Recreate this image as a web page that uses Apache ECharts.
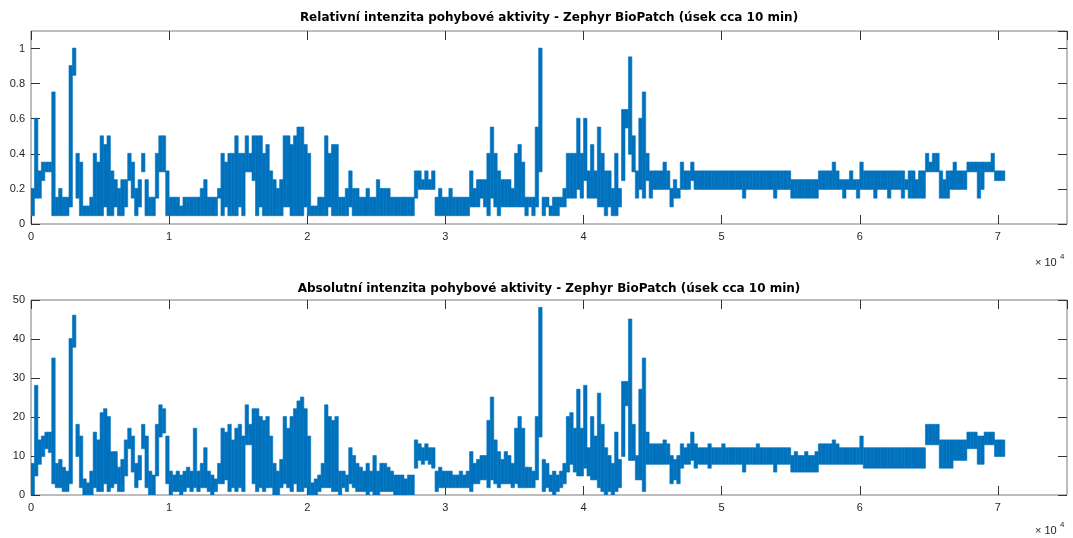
<!DOCTYPE html>
<html><head><meta charset="utf-8">
<script src="https://cdn.jsdelivr.net/npm/echarts@6/dist/echarts.min.js"></script>
<style>html,body{margin:0;padding:0;background:#fff}#c{width:1073px;height:538px}</style>
</head><body><div id="c"></div>
<script>
// bin width (samples) of the min/max envelope
const BIN = 250;
const titleTop = "Relativní intenzita pohybové aktivity - Zephyr BioPatch (úsek cca 10 min)";
const titleBottom = "Absolutní intenzita pohybové aktivity - Zephyr BioPatch (úsek cca 10 min)";
const xTickLabels = ["0","1","2","3","4","5","6","7"];

// Relative intensity: per-bin minimum and maximum
const relLo = [
.05,.15,.15,.25,.3,.3,.05,.05,.05,.05,
.05,.1,.85,.15,.05,.05,.05,.05,.05,.05,
.05,.1,.05,.05,.1,.05,.05,.1,.25,.15,
.05,.1,.3,.05,.05,.05,.15,.3,.3,.05,
.05,.05,.05,.05,.05,.05,.05,.05,.05,.05,
.05,.05,.05,.05,.15,.05,.1,.05,.05,.05,
.1,.05,.3,.3,.25,.05,.1,.05,.05,.05,
.05,.05,.05,.1,.1,.05,.05,.05,.05,.1,
.05,.05,.05,.05,.05,.05,.1,.05,.05,.05,
.05,.05,.1,.05,.05,.05,.05,.05,.05,.05,
.05,.05,.05,.05,.05,.05,.05,.05,.05,.05,
.05,.15,.2,.2,.2,.2,.2,.05,.05,.05,
.05,.05,.05,.05,.05,.05,.05,.1,.1,.1,
.15,.1,.05,.15,.1,.05,.1,.1,.1,.1,
.1,.1,.1,.05,.1,.05,.1,.3,.05,.1,
.05,.05,.05,.1,.1,.15,.15,.15,.2,.15,
.25,.15,.15,.15,.1,.1,.05,.1,.05,.05,
.1,.25,.55,.4,.3,.15,.2,.15,.25,.15,
.2,.2,.2,.2,.2,.1,.15,.15,.2,.2,
.2,.25,.2,.2,.2,.2,.2,.2,.2,.2,
.2,.2,.2,.2,.2,.2,.15,.2,.2,.2,
.2,.2,.2,.2,.2,.15,.2,.2,.2,.2,
.15,.15,.15,.15,.15,.15,.15,.15,.2,.2,
.2,.2,.2,.2,.2,.15,.2,.2,.2,.15,
.2,.2,.2,.2,.15,.2,.2,.2,.15,.2,
.2,.2,.15,.2,.15,.15,.15,.15,.15,.3,
.3,.3,.3,.15,.15,.15,.2,.2,.2,.2,
.2,.3,.3,.3,.15,.2,.3,.3,.3,.25,
.25,.25];
const relHi = [
.2,.6,.3,.35,.35,.35,.75,.15,.2,.15,
.15,.9,1,.4,.35,.1,.1,.15,.4,.35,
.5,.45,.5,.3,.25,.2,.25,.25,.4,.35,
.2,.25,.4,.25,.15,.15,.4,.5,.5,.3,
.15,.15,.15,.1,.15,.15,.15,.15,.15,.2,
.25,.15,.15,.15,.2,.4,.35,.4,.4,.5,
.4,.4,.5,.4,.5,.5,.5,.4,.45,.3,
.25,.2,.25,.5,.5,.45,.5,.55,.55,.45,
.4,.1,.1,.15,.15,.5,.4,.45,.45,.15,
.15,.2,.3,.2,.2,.15,.15,.2,.15,.15,
.25,.2,.2,.2,.15,.15,.15,.15,.15,.15,
.15,.3,.3,.25,.3,.25,.3,.15,.2,.15,
.15,.2,.15,.15,.15,.15,.15,.3,.2,.25,
.25,.25,.4,.55,.4,.3,.25,.25,.25,.2,
.4,.45,.35,.15,.15,.15,.55,1,.15,.15,
.1,.15,.15,.15,.2,.4,.4,.4,.6,.4,
.6,.3,.45,.3,.55,.4,.3,.3,.2,.4,
.2,.65,.65,.95,.5,.3,.6,.75,.4,.3,
.3,.3,.3,.35,.3,.2,.25,.2,.35,.3,
.3,.35,.3,.3,.3,.3,.3,.3,.3,.3,
.3,.3,.3,.3,.3,.3,.3,.3,.3,.3,
.3,.3,.3,.3,.3,.3,.3,.3,.3,.3,
.25,.25,.25,.25,.25,.25,.25,.25,.3,.3,
.3,.3,.35,.3,.25,.25,.25,.3,.25,.25,
.35,.3,.3,.3,.3,.3,.3,.3,.3,.3,
.3,.3,.3,.25,.3,.3,.25,.3,.3,.4,
.35,.4,.4,.3,.25,.3,.3,.35,.3,.3,
.3,.35,.35,.35,.35,.35,.35,.35,.4,.3,
.3,.3];

// Absolute intensity: per-bin minimum and maximum
const absLo = [
0,5,8,10,12,11,3,2,2,1,
1,3,38,10,2,0,0,0,2,1,
1,3,1,2,3,1,1,5,12,6,
2,4,12,2,0,0,5,15,16,3,
0,1,1,0,1,2,1,2,1,2,
2,1,0,1,3,3,4,1,2,1,
2,1,13,13,3,1,2,1,2,2,
0,0,2,3,2,1,3,1,1,2,
0,0,0,1,2,2,2,1,1,0,
2,1,3,2,1,1,1,0,1,0,
0,1,1,1,1,0,0,0,0,0,
0,7,9,8,9,8,7,1,2,2,
2,2,2,2,2,2,2,1,3,3,
4,4,2,4,3,2,3,3,3,2,
3,2,2,2,2,2,4,15,1,2,
1,0,1,2,3,6,8,6,5,5,
7,5,4,4,2,1,0,1,0,1,
2,10,23,9,9,4,4,1,8,8,
8,8,8,8,8,3,4,3,7,8,
8,9,7,8,8,8,7,8,8,8,
8,8,8,8,8,8,6,8,8,8,
8,8,8,8,8,6,8,8,8,8,
6,6,6,6,6,6,6,6,8,8,
8,8,8,8,8,8,8,8,8,8,
8,7,7,7,7,7,7,7,7,7,
7,7,7,7,7,7,7,7,7,13,
13,13,13,7,7,7,7,9,9,9,
9,12,12,12,8,8,13,13,13,10,
10,10];
const absHi = [
8,28,14,15,16,16,35,8,9,7,
6,40,46,18,15,4,3,6,16,14,
21,22,20,11,11,7,9,14,17,15,
8,10,18,15,6,5,18,23,22,15,
6,5,6,5,6,7,6,17,6,8,
12,6,5,4,8,17,16,18,14,17,
18,15,23,18,22,22,20,19,20,15,
8,6,9,20,17,20,22,24,25,22,
15,3,4,5,8,23,20,19,20,6,
6,5,12,10,8,7,6,8,6,10,
6,8,8,7,6,5,5,5,4,5,
5,14,13,12,13,12,12,6,7,6,
6,6,5,5,6,5,6,11,8,9,
10,10,19,25,14,11,9,11,10,8,
17,20,17,7,7,6,20,48,9,8,
5,6,5,6,8,20,21,17,27,17,
28,12,20,15,26,18,12,10,8,16,
9,29,29,45,18,10,27,35,16,13,
13,13,13,14,13,10,9,10,13,12,
13,16,13,12,12,12,13,12,12,12,
13,12,12,12,12,12,12,12,12,12,
13,12,12,12,12,12,12,12,12,12,
10,11,10,10,11,10,10,11,13,13,
13,13,14,13,12,12,12,12,12,12,
15,12,12,12,12,12,12,12,12,12,
12,12,12,12,12,12,12,12,12,18,
18,18,18,14,14,14,14,14,14,14,
14,16,16,16,15,15,16,16,16,14,
14,14];

const LINE_COLOR = '#0072BD';

// one item per bin: [centre sample index, min, max]
function bins(lo, hi) {
  return lo.map((v, i) => [(i + 0.5) * BIN, v, hi[i]]);
}

function renderBin(params, api) {
  const x = api.value(0), lo = api.value(1), hi = api.value(2);
  const pTop = api.coord([x, hi]);
  const pBot = api.coord([x, lo]);
  const w = api.size([BIN, 0])[0];
  const h = Math.max(1, pBot[1] - pTop[1]);
  return {
    type: 'rect',
    shape: { x: pTop[0] - w / 2, y: pTop[1] - 0.5, width: w, height: h + 1 },
    style: { fill: LINE_COLOR, stroke: LINE_COLOR, lineWidth: 0.6 }
  };
}

const FONT = 'Liberation Sans, Arial, Helvetica, sans-serif';
const tickStyle = { inside: true, length: 9, lineStyle: { color: '#333', width: 1 } };
function xAx(grid, pos, labels) {
  return {
    gridIndex: grid, type: 'value', position: pos, min: 0, max: 75000, interval: 10000,
    axisLine: { show: false, onZero: false }, axisTick: tickStyle, splitLine: { show: false },
    axisLabel: labels ? {
      show: true, margin: 7, color: '#262626', fontSize: 11, fontFamily: FONT, showMaxLabel: false,
      formatter: v => xTickLabels[Math.round(v / 10000)] ?? ''
    } : { show: false }
  };
}
function yAx(grid, pos, max, interval, labels, showMax) {
  return {
    gridIndex: grid, type: 'value', position: pos, min: 0, max: max, interval: interval,
    axisLine: { show: false, onZero: false }, axisTick: tickStyle, splitLine: { show: false },
    axisLabel: labels ? {
      show: true, margin: 6, color: '#262626', fontSize: 11, fontFamily: FONT, showMaxLabel: showMax,
      formatter: v => String(+(+v).toFixed(2))
    } : { show: false }
  };
}

const TFONT = 'bold 12px "DejaVu Sans", sans-serif';
const chart = echarts.init(document.getElementById('c'), null, { renderer: 'canvas' });
chart.setOption({
  animation: false,
  backgroundColor: '#fff',
  grid: [
    { left: 31, top: 31, width: 1036, height: 193, show: true, borderColor: '#7a7a7a', borderWidth: 1, backgroundColor: 'transparent' },
    { left: 31, top: 300, width: 1036, height: 195, show: true, borderColor: '#7a7a7a', borderWidth: 1, backgroundColor: 'transparent' }
  ],
  xAxis: [xAx(0, 'bottom', true), xAx(0, 'top', false), xAx(1, 'bottom', true), xAx(1, 'top', false)],
  yAxis: [yAx(0, 'left', 1.1, 0.2, true, false), yAx(0, 'right', 1.1, 0.2, false, false),
          yAx(1, 'left', 50, 10, true, true), yAx(1, 'right', 50, 10, false, true)],
  graphic: [
    { type: 'text', x: 549, y: 18, style: { text: titleTop, font: TFONT, fill: '#000', textAlign: 'center', textVerticalAlign: 'middle' } },
    { type: 'text', x: 549, y: 289, style: { text: titleBottom, font: TFONT, fill: '#000', textAlign: 'center', textVerticalAlign: 'middle' } },
    { type: 'text', x: 1035, y: 263, style: { text: '× 10', font: '11px ' + FONT, fill: '#262626', textVerticalAlign: 'middle' } },
    { type: 'text', x: 1060, y: 257, style: { text: '4', font: '8px ' + FONT, fill: '#262626', textVerticalAlign: 'middle' } },
    { type: 'text', x: 1035, y: 531, style: { text: '× 10', font: '11px ' + FONT, fill: '#262626', textVerticalAlign: 'middle' } },
    { type: 'text', x: 1060, y: 525, style: { text: '4', font: '8px ' + FONT, fill: '#262626', textVerticalAlign: 'middle' } }
  ],
  series: [
    { type: 'custom', xAxisIndex: 0, yAxisIndex: 0, data: bins(relLo, relHi), renderItem: renderBin,
      encode: { x: 0, y: [1, 2] }, clip: true, silent: true },
    { type: 'custom', xAxisIndex: 2, yAxisIndex: 2, data: bins(absLo, absHi), renderItem: renderBin,
      encode: { x: 0, y: [1, 2] }, clip: true, silent: true }
  ]
});
</script></body></html>
